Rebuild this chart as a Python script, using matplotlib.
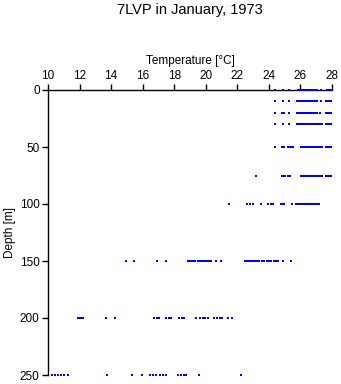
import numpy as np
import matplotlib
matplotlib.use("Agg")
import matplotlib.pyplot as plt

# temperature readings (deg C) at each standard depth
depths = [0, 10, 20, 30, 50, 75, 100, 150, 200, 250]

t0 = [24.37, 24.89, 25.27, 25.84, 25.95, 26.05, 26.15, 26.25, 26.35, 26.45, 26.55,
      26.65, 26.75, 26.85, 26.93, 27.07, 27.28, 27.68, 27.78, 27.88, 27.95]
t10 = [24.37, 24.89, 25.27, 25.75, 25.85, 25.95, 26.05, 26.15, 26.25, 26.35, 26.45,
       26.55, 26.65, 26.75, 26.85, 26.93, 27.07, 27.28, 27.65, 27.75, 27.85, 27.95]
t20 = [24.37, 24.85, 24.95, 25.27, 25.75, 25.85, 26.0, 26.1, 26.2, 26.3, 26.4, 26.5,
       26.6, 26.7, 26.8, 26.9, 27.07, 27.25, 27.65, 27.75, 27.85, 27.95]
t30 = [24.37, 24.89, 25.27, 25.75, 25.85, 25.95, 26.05, 26.15, 26.25, 26.35, 26.45,
       26.55, 26.65, 26.75, 26.85, 26.95, 27.05, 27.15, 27.25, 27.35, 27.65, 27.75,
       27.85, 27.95]
t50 = [24.37, 24.85, 24.93, 25.2, 25.3, 25.4, 25.5, 26.05, 26.15, 26.25, 26.35, 26.45,
       26.55, 26.65, 26.75, 26.85, 26.95, 27.05, 27.15, 27.25, 27.35, 27.65, 27.75,
       27.85, 27.95]
t75 = [23.16, 24.82, 24.92, 25.0, 25.2, 25.3, 25.35, 26.05, 26.15, 26.25, 26.35,
       26.45, 26.55, 26.65, 26.75, 26.85, 26.95, 27.05, 27.15, 27.25, 27.35, 27.6,
       27.7, 27.8, 27.9, 27.95]
t100 = [21.47, 22.64, 22.78, 22.99, 23.48, 23.97, 24.11, 24.26, 24.75, 24.85, 24.94,
        25.46, 25.74, 25.84, 25.94, 26.04, 26.14, 26.24, 26.34, 26.44, 26.54, 26.64,
        26.74, 26.84, 26.94, 27.04, 27.17]
t150 = [14.92, 15.45, 16.93, 17.46, 18.87, 19.0, 19.1, 19.2, 19.3, 19.49, 19.6, 19.7,
        19.8, 19.93, 20.05, 20.2, 20.35, 20.67, 20.99, 22.5, 22.62, 22.75, 22.87, 23.0,
        23.12, 23.25, 23.4, 23.55, 23.7, 23.85, 24.0, 24.15, 24.3, 24.45, 24.58,
        24.89, 25.38]
t200 = [11.9, 12.0, 12.1, 12.22, 13.7, 14.25, 16.72, 16.89, 17.06, 17.5, 17.65, 17.82,
        18.3, 18.47, 18.62, 19.4, 19.61, 19.8, 19.93, 20.14, 20.5, 20.69, 20.88, 21.05,
        21.41, 21.66]
t250 = [10.28, 10.42, 10.61, 10.8, 10.99, 11.27, 13.74, 15.35, 15.96, 16.44, 16.64,
        16.83, 17.08, 17.27, 17.5, 18.24, 18.41, 18.6, 18.77, 19.57, 22.26]

temps = [t0, t10, t20, t30, t50, t75, t100, t150, t200, t250]

plt.rcParams['font.family'] = ['Liberation Sans', 'DejaVu Sans']

fig = plt.figure(figsize=(3.41, 3.84), dpi=100)
ax = fig.add_axes([48 / 341, 9 / 384, 284 / 341, 285 / 384])

for d, t in zip(depths, temps):
    ax.plot(t, np.full(len(t), d), linestyle='none', marker='s', markersize=2.0,
            markeredgewidth=0, color='#0000ff', clip_on=False, zorder=3)

ax.set_xlim(10, 28)
ax.set_ylim(250, 0)
ax.set_xticks(np.arange(10, 29, 2))
ax.set_yticks([0, 50, 100, 150, 200, 250])
ax.xaxis.tick_top()
ax.xaxis.set_label_position('top')
ax.spines['right'].set_visible(False)
ax.spines['bottom'].set_visible(False)
for s in ('top', 'left'):
    ax.spines[s].set_linewidth(1.0)
ax.tick_params(axis='both', direction='out', length=4, width=1.0, labelsize=8.5, pad=2)

ax.set_xlabel('Temperature [°C]', fontsize=8.5, labelpad=4)
ax.set_ylabel('Depth [m]', fontsize=8.5, labelpad=3)
fig.text(190 / 341, 1 - 10 / 384, '7LVP in January, 1973', ha='center', va='center',
         fontsize=10.5)

fig.savefig('out.png', dpi=100)
